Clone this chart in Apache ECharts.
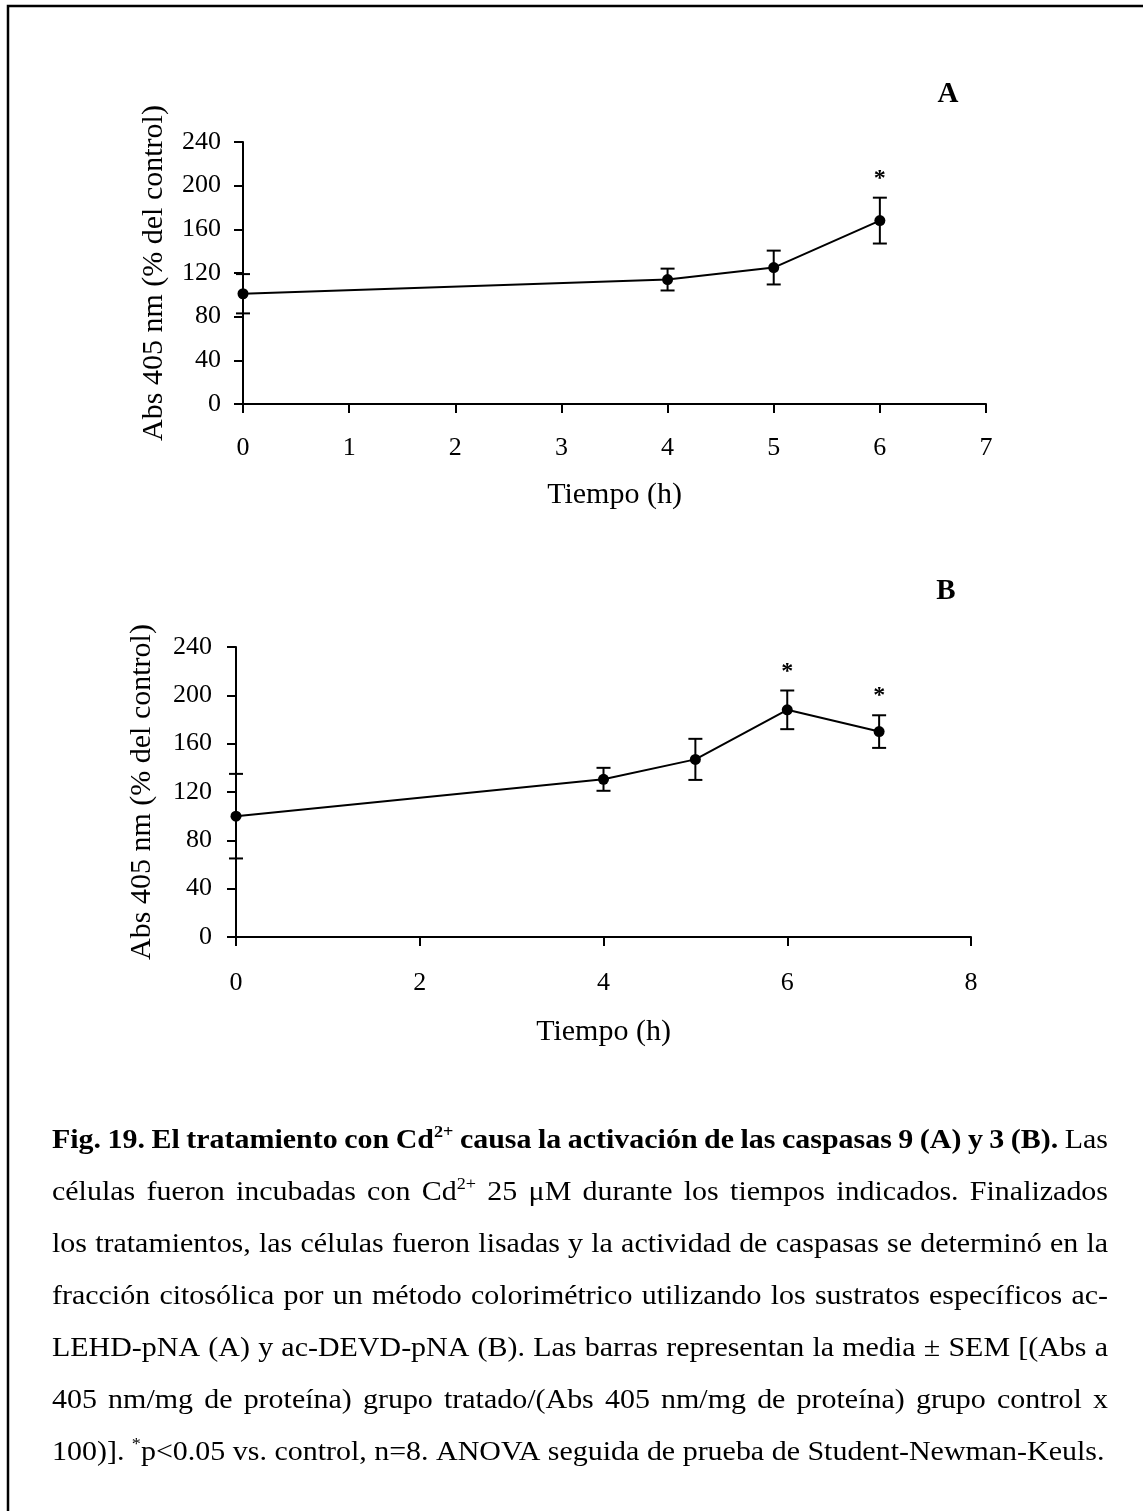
<!DOCTYPE html>
<html>
<head>
<meta charset="utf-8">
<title>Actividad de caspasas</title>
<script src="https://cdn.jsdelivr.net/npm/echarts/dist/echarts.min.js"></script>
<style>
  html, body { margin: 0; padding: 0; background: #fff; }
  #chart { width: 1143px; height: 1511px; }
</style>
</head>
<body>
<div id="chart"></div>
<script>
// Panel A: caspasa 9 (ac-LEHD-pNA)
const timeA = [0, 4, 5, 6];
const meanA = [101, 114, 125, 168];
const semA = [18, 10, 15.5, 21];
const sigA = [0, 0, 0, 1];
const xTicksA = [0, 1, 2, 3, 4, 5, 6, 7];

// Panel B: caspasa 3 (ac-DEVD-pNA)
const timeB = [0, 4, 5, 6, 7];
const meanB = [100, 130.5, 147, 188, 170];
const semB = [35, 9.5, 17, 16, 13.5];
const sigB = [0, 0, 0, 1, 1];
const xTicksB = [0, 2, 4, 6, 8];

const yTicks = [0, 40, 80, 120, 160, 200, 240];

const yTitle = 'Abs 405 nm (% del control)';
const xTitle = 'Tiempo (h)';
const panelLetters = ['A', 'B'];

// Caption: **bold**, ^{superscript}
const captionLines = [
  '**Fig. 19. El tratamiento con Cd^{2+} causa la activación de las caspasas 9 (A) y 3 (B).** Las',
  'células fueron incubadas con Cd^{2+} 25 μM durante los tiempos indicados. Finalizados',
  'los tratamientos, las células fueron lisadas y la actividad de caspasas se determinó en la',
  'fracción citosólica por un método colorimétrico utilizando los sustratos específicos ac-',
  'LEHD-pNA (A) y ac-DEVD-pNA (B). Las barras representan la media ± SEM [(Abs a',
  '405 nm/mg de proteína) grupo tratado/(Abs 405 nm/mg de proteína) grupo control x',
  '100)]. ^{*}p<0.05 vs. control, n=8. ANOVA seguida de prueba de Student-Newman-Keuls.'
];

const SERIF = '"Liberation Serif", "Times New Roman", serif';
const TICK_SIZE = 26;
const NAME_SIZE = 30;

function makeX(gridIndex, ticks, labelMargin, nameGap) {
  return {
    type: 'value',
    gridIndex: gridIndex,
    min: ticks[0],
    max: ticks[ticks.length - 1],
    interval: ticks[1] - ticks[0],
    name: xTitle,
    nameLocation: 'middle',
    nameGap: nameGap,
    nameTextStyle: { fontFamily: SERIF, fontSize: NAME_SIZE, color: '#000' },
    axisLine: { show: true, onZero: false, lineStyle: { color: '#000', width: 2 } },
    axisTick: { show: true, inside: false, length: 9, lineStyle: { color: '#000', width: 2 } },
    axisLabel: { margin: labelMargin, fontFamily: SERIF, fontSize: TICK_SIZE, color: '#000' },
    splitLine: { show: false }
  };
}

function makeY(gridIndex, labelMargin, nameGap) {
  return {
    type: 'value',
    gridIndex: gridIndex,
    min: yTicks[0],
    max: yTicks[yTicks.length - 1],
    interval: yTicks[1] - yTicks[0],
    name: yTitle,
    nameLocation: 'middle',
    nameRotate: 90,
    nameGap: nameGap,
    nameTextStyle: { fontFamily: SERIF, fontSize: NAME_SIZE, color: '#000' },
    axisLine: { show: true, onZero: false, lineStyle: { color: '#000', width: 2 } },
    axisTick: { show: true, inside: false, length: 9, lineStyle: { color: '#000', width: 2 } },
    axisLabel: { margin: labelMargin, fontFamily: SERIF, fontSize: TICK_SIZE, color: '#000' },
    splitLine: { show: false }
  };
}

// Error bars (mean ± SEM) with a significance asterisk above the upper cap
function renderErrorBar(params, api) {
  const x = api.value(0), m = api.value(1), e = api.value(2), s = api.value(3);
  const top = api.coord([x, m + e]);
  const bot = api.coord([x, m - e]);
  const w = 7;
  const st = { stroke: '#000', lineWidth: 2 };
  const children = [
    { type: 'line', shape: { x1: top[0], y1: top[1], x2: bot[0], y2: bot[1] }, style: st },
    { type: 'line', shape: { x1: top[0] - w, y1: top[1], x2: top[0] + w, y2: top[1] }, style: st },
    { type: 'line', shape: { x1: bot[0] - w, y1: bot[1], x2: bot[0] + w, y2: bot[1] }, style: st }
  ];
  if (s) {
    children.push({
      type: 'text', x: top[0], y: top[1] - 19,
      style: { text: '*', font: 'bold 24px ' + SERIF, fill: '#000',
               align: 'center', verticalAlign: 'middle',
               textAlign: 'center', textVerticalAlign: 'middle' }
    });
  }
  return { type: 'group', children: children };
}

function lineSeries(idx, t, m) {
  return {
    type: 'line', xAxisIndex: idx, yAxisIndex: idx, clip: false,
    data: t.map((v, i) => [v, m[i]]),
    symbol: 'circle', symbolSize: 11,
    itemStyle: { color: '#000' },
    lineStyle: { color: '#000', width: 2 },
    z: 3
  };
}

function errorSeries(idx, t, m, e, s) {
  return {
    type: 'custom', xAxisIndex: idx, yAxisIndex: idx, clip: false,
    renderItem: renderErrorBar,
    data: t.map((v, i) => [v, m[i], e[i], s[i]]),
    z: 2
  };
}

// ---- caption layout (justified paragraph, slightly widened glyphs) ----
const CAP_LEFT = 52, CAP_RIGHT = 1108, CAP_TOP = 1141, CAP_STEP = 52;
const CAP_SIZE = 28, CAP_STRETCH = 1.07;
const measureCtx = document.createElement('canvas').getContext('2d');

function fontOf(bold, sup) {
  const size = sup ? Math.round(CAP_SIZE * 0.6) : CAP_SIZE;
  return (bold ? 'bold ' : '') + size + 'px ' + SERIF;
}
function textWidth(text, font) {
  measureCtx.font = font;
  return measureCtx.measureText(text).width * CAP_STRETCH;
}

function parseLine(str) {
  const words = [];
  let word = [], bold = false, sup = false, buf = '';
  const flush = () => { if (buf) { word.push({ text: buf, bold: bold, sup: sup }); buf = ''; } };
  for (let i = 0; i < str.length; i++) {
    const c = str[i];
    if (c === '*' && str[i + 1] === '*') { flush(); bold = !bold; i++; continue; }
    if (c === '^' && str[i + 1] === '{') { flush(); sup = true; i++; continue; }
    if (c === '}' && sup) { flush(); sup = false; continue; }
    if (c === ' ') { flush(); if (word.length) words.push(word); word = []; continue; }
    buf += c;
  }
  flush();
  if (word.length) words.push(word);
  return words;
}

function captionGraphics() {
  const out = [];
  captionLines.forEach((line, li) => {
    const words = parseLine(line);
    const widths = words.map(w => w.reduce((a, f) => a + textWidth(f.text, fontOf(f.bold, f.sup)), 0));
    const total = widths.reduce((a, b) => a + b, 0);
    const last = li === captionLines.length - 1;
    const gap = last ? textWidth(' ', fontOf(false, false))
                     : (CAP_RIGHT - CAP_LEFT - total) / (words.length - 1);
    const cy = CAP_TOP + li * CAP_STEP;
    let x = CAP_LEFT;
    words.forEach((w, wi) => {
      let fx = x;
      w.forEach(f => {
        const font = fontOf(f.bold, f.sup);
        out.push({
          type: 'text', x: fx, y: f.sup ? cy - CAP_SIZE * 0.3 : cy,
          scaleX: CAP_STRETCH,
          style: { text: f.text, font: font, fill: '#000',
                   align: 'left', verticalAlign: 'middle',
                   textAlign: 'left', textVerticalAlign: 'middle' }
        });
        fx += textWidth(f.text, font);
      });
      x += widths[wi] + gap;
    });
  });
  return out;
}

const chart = echarts.init(document.getElementById('chart'), null, { renderer: 'canvas' });

const graphics = [
  { type: 'rect', shape: { x: 8, y: 6, width: 1200, height: 1600 },
    style: { fill: 'none', stroke: '#000', lineWidth: 2.5 }, silent: true },
  { type: 'text', x: 948, y: 95,
    style: { text: panelLetters[0], font: 'bold 29px ' + SERIF, fill: '#000',
             align: 'center', verticalAlign: 'middle', textAlign: 'center', textVerticalAlign: 'middle' } },
  { type: 'text', x: 946, y: 592,
    style: { text: panelLetters[1], font: 'bold 29px ' + SERIF, fill: '#000',
             align: 'center', verticalAlign: 'middle', textAlign: 'center', textVerticalAlign: 'middle' } }
].concat(captionGraphics());

chart.setOption({
  animation: false,
  backgroundColor: '#fff',
  grid: [
    { left: 243, top: 142, width: 743, height: 262 },
    { left: 236, top: 647, width: 735, height: 290 }
  ],
  xAxis: [makeX(0, xTicksA, 31, 76), makeX(1, xTicksB, 33, 80)],
  yAxis: [makeY(0, 22, 74), makeY(1, 24, 79)],
  series: [
    errorSeries(0, timeA, meanA, semA, sigA),
    lineSeries(0, timeA, meanA),
    errorSeries(1, timeB, meanB, semB, sigB),
    lineSeries(1, timeB, meanB)
  ],
  graphic: graphics
});
</script>
</body>
</html>
